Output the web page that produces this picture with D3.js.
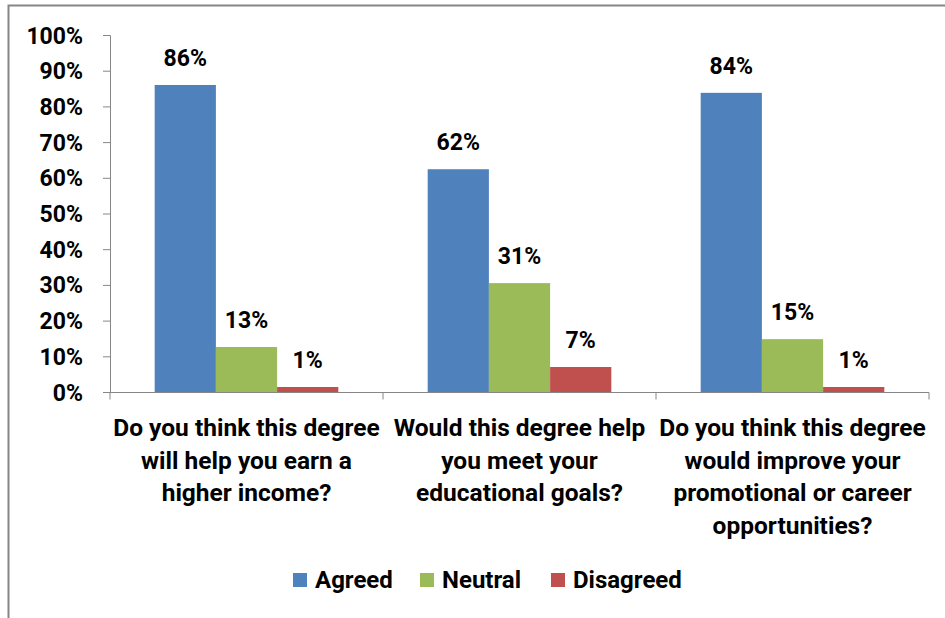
<!DOCTYPE html>
<html>
<head>
<meta charset="utf-8">
<script src="https://cdn.jsdelivr.net/npm/d3@7"></script>
<style>
  body { margin: 0; background: #fff; }
  text { font-family: Roboto, "Open Sans", sans-serif; font-weight: bold; fill: #000; }
</style>
</head>
<body>
<script>
// chart data
let categories = [
    ["Do you think this degree", "will help you earn a", "higher income?"],
    ["Would this degree help", "you meet your", "educational goals?"],
    ["Do you think this degree", "would improve your", "promotional or career", "opportunities?"]
]
let seriesNames = ["Agreed", "Neutral", "Disagreed"]
let agreed = [0.86, 0.624, 0.838]
let neutral = [0.126, 0.305, 0.148]
let disagreed = [0.014, 0.07, 0.014]
let yTicks = [0, 0.1, 0.2, 0.3, 0.4, 0.5, 0.6, 0.7, 0.8, 0.9, 1]
let colors = ["#4f81bd", "#9bbb59", "#c0504d"]

let series = [agreed, neutral, disagreed]
let fs = "23px"

let svg = d3.select("body").append("svg")
    .attr("width", 945)
    .attr("height", 618)

// outer frame (only top and left edges visible)
svg.append("path")
    .attr("d", "M8.5,618 L8.5,5.5 L945,5.5")
    .style("fill", "none")
    .style("stroke", "#868686")
    .style("stroke-width", 2)

let x0 = d3.scaleBand()
    .domain(d3.range(categories.length))
    .range([110, 929])

let x1 = d3.scaleBand()
    .domain(d3.range(seriesNames.length))
    .range([0, x0.bandwidth()])
    .paddingOuter(0.73)
    .paddingInner(0)

let y = d3.scaleLinear()
    .domain([0, 1])
    .range([392, 35])

// y axis
let yAxis = svg.append("g")
    .attr("transform", "translate(110,0)")
    .call(d3.axisLeft(y).tickValues(yTicks).tickFormat(d3.format(".0%")).tickSize(7).tickPadding(20))
yAxis.select(".domain").attr("stroke", "#868686").attr("d", "M-7,35.5H0.5V392.5")
yAxis.selectAll(".tick line").attr("stroke", "#868686")
yAxis.selectAll(".tick text")
    .style("font-size", fs)
    .attr("dy", "0.35em")

// x axis
let xAxisG = svg.append("g")
    .attr("transform", "translate(0,392.5)")
xAxisG.append("line")
    .attr("x1", 110).attr("x2", 929)
    .attr("stroke", "#868686")
xAxisG.selectAll(".xt")
    .data(d3.range(categories.length + 1))
    .join("line")
    .attr("x1", d => 110 + d * x0.bandwidth())
    .attr("x2", d => 110 + d * x0.bandwidth())
    .attr("y1", 0).attr("y2", 7)
    .attr("stroke", "#868686")

// bars
let groups = svg.selectAll(".grp")
    .data(categories)
    .join("g")
    .attr("transform", (d, i) => `translate(${x0(i)},0)`)

groups.each(function (cat, ci) {
    let g = d3.select(this)
    series.forEach((vals, si) => {
        g.append("rect")
            .attr("x", x1(si))
            .attr("y", y(vals[ci]))
            .attr("width", x1.bandwidth())
            .attr("height", y(0) - y(vals[ci]))
            .attr("fill", colors[si])
        g.append("text")
            .attr("x", x1(si) + x1.bandwidth() / 2)
            .attr("y", y(vals[ci]) - 19)
            .attr("text-anchor", "middle")
            .style("font-size", fs)
            .text(d3.format(".0%")(vals[ci]))
    })
    // category label
    let t = g.append("text")
        .attr("text-anchor", "middle")
        .style("font-size", "24.5px")
    cat.forEach((line, li) => {
        t.append("tspan")
            .attr("x", x0.bandwidth() / 2)
            .attr("y", 436 + li * 32.5)
            .text(line)
    })
})

// legend
let legendX = [293, 420, 551]
let legend = svg.selectAll(".leg")
    .data(seriesNames)
    .join("g")
    .attr("transform", (d, i) => `translate(${legendX[i]},573)`)
legend.append("rect")
    .attr("width", 14).attr("height", 14)
    .attr("fill", (d, i) => colors[i])
legend.append("text")
    .attr("x", 22)
    .attr("y", 15)
    .style("font-size", "24px")
    .text(d => d)
</script>
</body>
</html>
